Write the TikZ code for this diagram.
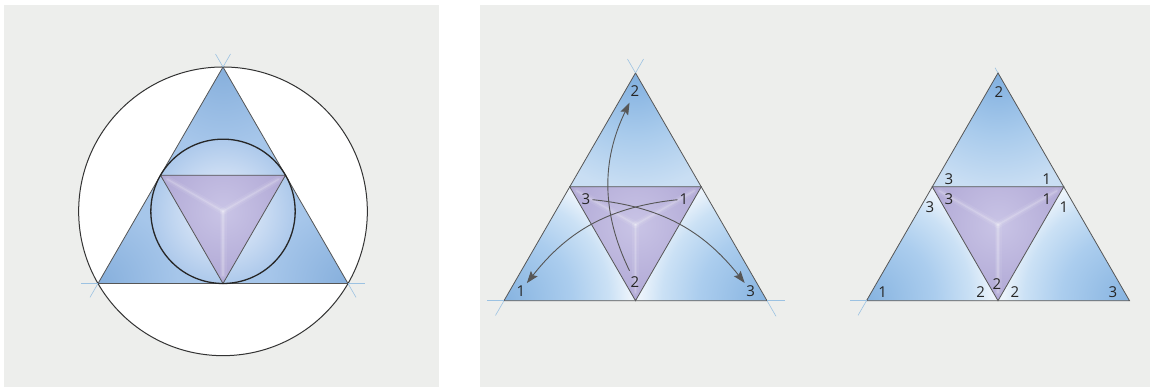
\documentclass[tikz,border=0pt]{standalone}
\usepackage{fontspec}
\setsansfont{Open Sans}
\usetikzlibrary{calc,arrows.meta}

\definecolor{panel}{HTML}{EDEEEC}
\definecolor{edge}{HTML}{565656}
\definecolor{guideblue}{HTML}{9CC2E2}
\definecolor{lblue}{HTML}{A6C6EA}
\definecolor{ldark}{HTML}{86AFDC}
\definecolor{lpale}{HTML}{CFDFF4}
\definecolor{lring}{HTML}{ADC9EB}
\definecolor{apexdark}{HTML}{80AFDF}
\definecolor{topmid}{HTML}{A9CBEC}
\definecolor{toppale}{HTML}{C9DEF3}
\definecolor{cornerdark}{HTML}{86B3E0}
\definecolor{cornermid}{HTML}{ABCDEE}
\definecolor{cornerlight}{HTML}{CBE1F5}
\definecolor{cornerpale}{HTML}{EBF3FB}
\definecolor{lilac}{HTML}{B0A8D5}
\definecolor{lilacpale}{HTML}{C9C4E6}

% radial fades; a circle of radius 2h maps 12.5bp to h
\pgfdeclareradialshading{topfade}{\pgfpointorigin}{color(0bp)=(apexdark); color(6bp)=(topmid); color(11bp)=(toppale); color(50bp)=(toppale)}
\pgfdeclareradialshading{cornerfade}{\pgfpointorigin}{color(0bp)=(cornerdark); color(6.5bp)=(cornermid); color(10bp)=(cornerlight); color(12bp)=(cornerpale); color(50bp)=(cornerpale)}
\pgfdeclareradialshading{leftcorner}{\pgfpointorigin}{color(0bp)=(ldark); color(25bp)=(lblue); color(50bp)=(lblue)}
\pgfdeclareradialshading{incirclefade}{\pgfpointorigin}{color(0bp)=(lpale); color(12bp)=(lpale); color(25bp)=(lring); color(50bp)=(lring)}
\pgfdeclareradialshading{lilacfade}{\pgfpointorigin}{color(0bp)=(lilacpale); color(25bp)=(lilac); color(50bp)=(lilac)}

\begin{document}
\begin{tikzpicture}[x=1pt,y=1pt,font=\sffamily\fontsize{15}{18}\selectfont]
  \useasboundingbox (0,0) rectangle (1153,387);
  \tikzset{
    num/.style={inner sep=2pt, text=black!85},
    outline/.style={edge, line width=.8pt},
    guide/.style={guideblue, line width=.6pt},
    ridge/.style={white, line cap=round, shorten >=8pt},
    turn/.style={edge, line width=.9pt, -{Stealth[length=12pt,width=8.5pt,inset=2pt]}},
  }
  % Grey panels.
  \fill[panel] (4,0) rectangle (439,382);
  \fill[panel] (480,0) rectangle (1150,382);

  % Left panel: triangle, circumcircle, incircle.
  \def\R{144.34}
  \def\r{72.17}
  \coordinate (O) at (223,175.67);
  \coordinate (la) at (223,320);
  \coordinate (lb) at (98,103.5);
  \coordinate (lc) at (348,103.5);
  \coordinate (lab) at ($(la)!.5!(lb)$);
  \coordinate (lac) at ($(la)!.5!(lc)$);
  \coordinate (lbc) at ($(lb)!.5!(lc)$);
  \fill[white] (O) circle (\R);
  \fill[lblue] (la) -- (lb) -- (lc) -- cycle;
  \begin{scope}
    \clip (la) -- (lb) -- (lc) -- cycle;
    \foreach \v in {la,lb,lc}
      \shade[shading=leftcorner] (\v) circle (80);
  \end{scope}
  \shade[shading=incirclefade] (O) circle (\r);
  \begin{scope}
    \clip (lab) -- (lac) -- (lbc) -- cycle;
    \shade[shading=lilacfade] (O) circle (\r);
  \end{scope}
  \foreach \v in {lab,lac,lbc}{
    \draw[ridge, line width=7pt, opacity=.07] (O) -- (\v);
    \draw[ridge, line width=3.5pt, opacity=.11] (O) -- (\v);
    \draw[ridge, line width=1.2pt, opacity=.16] (O) -- (\v);
  }
  \draw[outline] (la) -- (lb) -- (lc) -- cycle;
  \draw[outline] (lab) -- (lac) -- (lbc) -- cycle;
  \draw[black!80, line width=1pt] (O) circle (\R);
  \draw[black!85, line width=1.3pt] (O) circle (\r);
  \draw[guide] (la) -- ($(la)!-15pt!(lb)$);
  \draw[guide] (la) -- ($(la)!-15pt!(lc)$);
  \draw[guide] (lb) -- ($(lb)!-17pt!(lc)$);
  \draw[guide] (lb) -- ($(lb)!-16pt!(la)$);
  \draw[guide] (lc) -- ($(lc)!-17pt!(lb)$);
  \draw[guide] (lc) -- ($(lc)!-16pt!(la)$);

  % Middle and right panels: same split triangle.
  \foreach \p/\x in {m/504,r/866.5}{
    \begin{scope}[shift={(\x,86.3)}]
      \coordinate (\p a) at (131.5,227.75);
      \coordinate (\p b) at (0,0);
      \coordinate (\p c) at (263,0);
      \coordinate (\p ab) at (65.75,113.88);
      \coordinate (\p ac) at (197.25,113.88);
      \coordinate (\p bc) at (131.5,0);
      \coordinate (\p g) at (131.5,75.92);
    \end{scope}
    \begin{scope}
      \clip (\p a) -- (\p ab) -- (\p ac) -- cycle;
      \shade[shading=topfade] (\p a) circle (263);
    \end{scope}
    \begin{scope}
      \clip (\p b) -- (\p bc) -- (\p ab) -- cycle;
      \shade[shading=cornerfade] (\p b) circle (263);
    \end{scope}
    \begin{scope}
      \clip (\p c) -- (\p ac) -- (\p bc) -- cycle;
      \shade[shading=cornerfade] (\p c) circle (263);
    \end{scope}
    \begin{scope}
      \clip (\p ab) -- (\p ac) -- (\p bc) -- cycle;
      \shade[shading=lilacfade] (\p g) circle (76);
    \end{scope}
    \foreach \v in {ab,ac,bc}{
      \draw[ridge, line width=7pt, opacity=.07] (\p g) -- (\p\v);
      \draw[ridge, line width=3.5pt, opacity=.11] (\p g) -- (\p\v);
      \draw[ridge, line width=1.2pt, opacity=.16] (\p g) -- (\p\v);
    }
    \draw[outline] (\p a) -- (\p b) -- (\p c) -- cycle;
    \draw[outline] (\p ab) -- (\p ac) -- (\p bc) -- cycle;
    \draw[guide] (\p b) -- ($(\p b)!-17pt!(\p c)$);
    \draw[guide] (\p b) -- ($(\p b)!-17pt!(\p a)$);
  }
  \draw[guide] (ma) -- ($(ma)!-16pt!(mb)$);
  \draw[guide] (ma) -- ($(ma)!-16pt!(mc)$);
  \draw[guide] (mc) -- ($(mc)!-18pt!(mb)$);
  \draw[guide] (mc) -- ($(mc)!-18pt!(ma)$);
  \draw[guide] (ra) -- ($(ra)!-6pt!(rc)$);

  % Middle panel: corner numbers and turns.
  \node[num] (m2top) at (635,295.5) {2};
  \node[num] (m3in) at (586,188) {3};
  \node[num] (m1in) at (684,188) {1};
  \node[num] (m2in) at (635,105) {2};
  \node[num] (m1) at (521,96.3) {1};
  \node[num] (m3) at (750.7,96.3) {3};
  \draw[turn, shorten <=4pt, shorten >=4pt] (m2in) to[bend left=26] (m2top);
  \draw[turn] (m1in) to[bend right=23] (m1);
  \draw[turn] (m3in) to[bend left=23] (m3);

  % Right panel: numbers at every corner.
  \node[num] (r2top) at (999,294.7) {2};
  \node[num] (r3up) at (949,208) {3};
  \node[num] (r1up) at (1046.7,208) {1};
  \node[num] (r3in) at (949,188) {3};
  \node[num] (r1in) at (1047,188) {1};
  \node[num] (r3out) at (930,180.3) {3};
  \node[num] (r1out) at (1064,180.3) {1};
  \node[num] (r2in) at (997,103) {2};
  \node[num] (r2l) at (980.7,95.3) {2};
  \node[num] (r2r) at (1015,95.3) {2};
  \node[num] (r1) at (882.7,95.3) {1};
  \node[num] (r3) at (1113,95.3) {3};
\end{tikzpicture}
\end{document}
